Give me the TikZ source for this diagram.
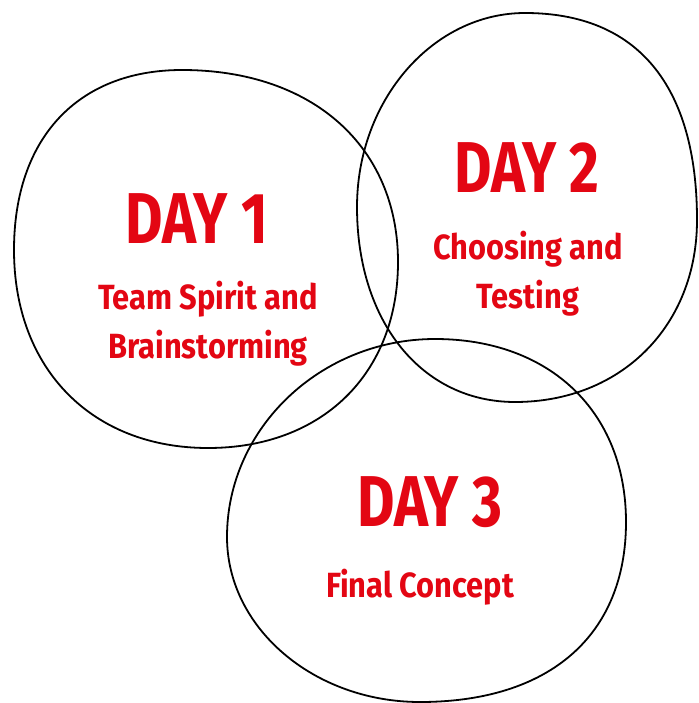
\documentclass[tikz,border=0pt]{standalone}
\usepackage{fontspec}
\setmainfont{Fira Sans}
\newfontfamily\titlefont{Fira Sans}[FakeStretch=0.80]
\newfontfamily\topicfont{Fira Sans}[FakeStretch=0.88]
\definecolor{dayred}{RGB}{227,6,19}
\tikzset{
  blob/.style={draw=black, line width=1.8pt},
  daytitle/.style={text=dayred, font=\titlefont\fontsize{72}{72}\selectfont\bfseries, inner sep=0pt, anchor=base},
  daytopic/.style={text=dayred, font=\topicfont\fontsize{35}{49}\selectfont\bfseries, inner sep=0pt, align=center, anchor=base}
}

\begin{document}
\begin{tikzpicture}[x=1pt,y=-1pt]
\useasboundingbox (0,0) rectangle (698,703);

% Day 1 blob
\draw[blob] (182,70) .. controls (313,70) and (398,147) .. (398,262)
  .. controls (398,374) and (322,448) .. (208,448)
  .. controls (92,448) and (14,369) .. (14,250)
  .. controls (14,138) and (78,70) .. cycle;

% Day 2 blob
\draw[blob] (525,13) .. controls (637,13) and (697,85) .. (697,220)
  .. controls (697,326) and (621,402) .. (515,402)
  .. controls (422,402) and (357,322) .. (357,207)
  .. controls (357,100) and (433,13) .. cycle;

% Day 3 blob
\draw[blob] (435,339) .. controls (550,339) and (626,412) .. (626,522)
  .. controls (626,635) and (550,702) .. (420,702)
  .. controls (314,702) and (227,628) .. (227,537)
  .. controls (227,428) and (321,339) .. cycle;

% Labels (multi-line ones sit on their last baseline)
\node[daytitle] (day1) at (197,243) {DAY 1};
\node[daytopic] (topic1) at (208,358) {Team Spirit and\\Brainstorming};

\node[daytitle] (day2) at (527,193) {DAY 2};
\node[daytopic] (topic2) at (528,308) {Choosing and\\Testing};

\node[daytitle] (day3) at (430,526) {DAY 3};
\node[daytopic] (topic3) at (420,597) {Final Concept};
\end{tikzpicture}
\end{document}
